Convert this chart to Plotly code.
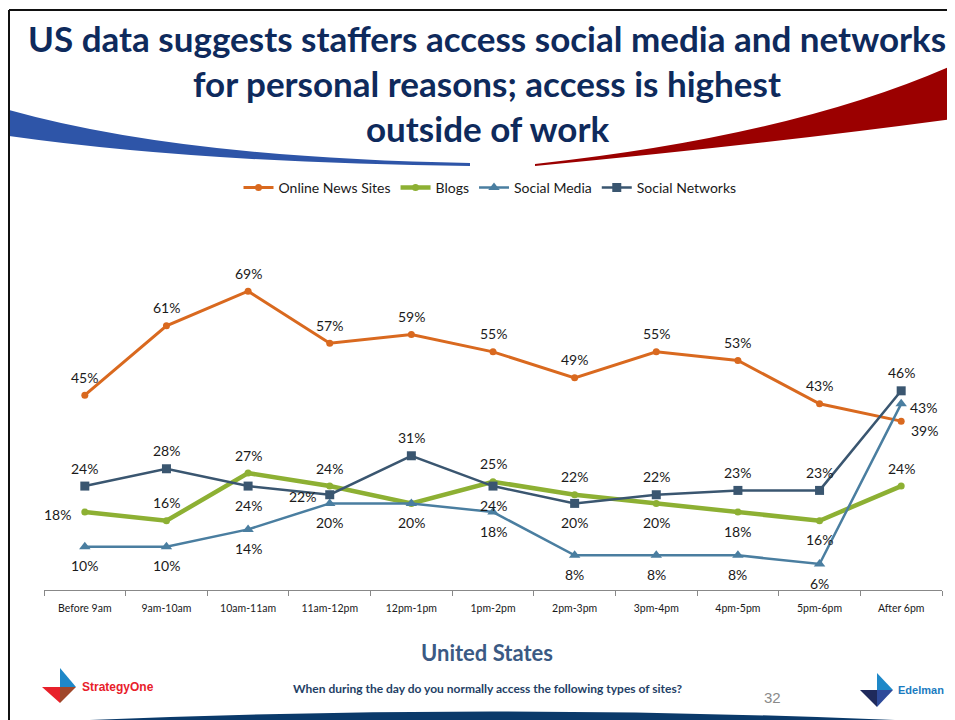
import plotly.graph_objects as go

# the page body adds an 8px margin, so the figure is drawn 8px smaller
# and every pixel position below is given in screen coordinates
OFF = 8
W, H = 955 - OFF, 720 - OFF

# data
categories = ["Before 9am", "9am-10am", "10am-11am", "11am-12pm", "12pm-1pm", "1pm-2pm",
              "2pm-3pm", "3pm-4pm", "4pm-5pm", "5pm-6pm", "After 6pm"]
online_news = [45, 61, 69, 57, 59, 55, 49, 55, 53, 43, 39]
blogs = [18, 16, 27, 24, 20, 25, 22, 20, 18, 16, 24]
social_media = [10, 10, 14, 20, 20, 18, 8, 8, 8, 6, 43]
social_networks = [24, 28, 24, 22, 31, 24, 20, 22, 23, 23, 46]

# where each data label sits relative to its point
pos_news = ["up"] * 10 + ["right_low"]
pos_blogs = ["left", "up", "up", "up", None, "up", "up", "down", "down", "down", "up"]
pos_media = ["down"] * 10 + ["right"]
pos_networks = ["up", "up", "down", "left", "up", "down", "down", "up", "up", "up", "up"]

OFFSETS = {
    "up": (0, 18),
    "down": (0, -19),
    "left": (-27, -2),
    "right": (22, -4),
    "right_low": (23, -9),
}

NAVY = "#0E2A5C"


def px(x, y):
    """screen pixel -> paper fraction"""
    return (x - OFF) / W, 1 - (y - OFF) / H


def path(cmds):
    out = []
    for c in cmds:
        if isinstance(c, str):
            out.append(c)
        else:
            fx, fy = px(*c)
            out.append(f"{fx:.5f},{fy:.5f}")
    return " ".join(out)


series = [
    ("Online News Sites", online_news, pos_news, "#D9691F", 3, "circle", 7),
    ("Blogs", blogs, pos_blogs, "#8DB033", 4.5, "circle", 7),
    ("Social Media", social_media, pos_media, "#4A7EA0", 2.5, "triangle-up", 10),
    ("Social Networks", social_networks, pos_networks, "#3A5670", 2.5, "square", 9),
]

fig = go.Figure()
annotations = []

for name, vals, poss, color, lw, sym, ms in series:
    fig.add_trace(go.Scatter(
        x=categories, y=vals, name=name, mode="lines+markers",
        line=dict(color=color, width=lw),
        marker=dict(symbol=sym, size=ms, color=color),
    ))
    for c, v, p in zip(categories, vals, poss):
        if p is None:
            continue
        dx, dy = OFFSETS[p]
        annotations.append(dict(
            x=c, y=v, xref="x", yref="y", text=f"{v}%", showarrow=False,
            xshift=dx, yshift=dy, font=dict(family="Lato", size=14, color="#1a1a1a"),
        ))


def note(x, y, text, size, color, family="Lato", anchor="center"):
    fx, fy = px(x, y)
    annotations.append(dict(x=fx, y=fy, xref="paper", yref="paper", text=text,
                            showarrow=False, xanchor=anchor, yanchor="middle",
                            font=dict(family=family, size=size, color=color)))


# title lines
note(487, 38, "<b>US data suggests staffers access social media and networks</b>", 35, NAVY)
note(487, 83, "<b>for personal reasons; access is highest</b>", 35, NAVY)
note(487, 128, "<b>outside of work</b>", 35, NAVY)

note(487, 652, "<b>United States</b>", 22, "#3B5A84")
note(487, 688, "<b>When during the day do you normally access the following types of sites?</b>",
     12, "#243F66")
note(772, 697, "32", 15, "#8a8a8a", family="Liberation Sans")
note(80, 687, "<b>StrategyOne</b>", 12, "#E8202A", family="Liberation Sans", anchor="left")
note(896, 690, "<b>Edelman</b>", 11, "#1A7BC0", family="Liberation Sans", anchor="left")

shapes = []


def add_path(cmds, color):
    shapes.append(dict(type="path", xref="paper", yref="paper", path=path(cmds),
                       fillcolor=color, line=dict(width=0), layer="below"))


# swooshes
add_path(["M", (9, 110), "Q", (180, 158), (470, 163), "L", (470, 166),
          "Q", (200, 163), (9, 136), "Z"], "#2E55A8")
add_path(["M", (535, 164), "Q", (800, 135), (960, 62), "L", (960, 118),
          "Q", (760, 145), (535, 166), "Z"], "#9B0000")
# bottom band
add_path(["M", (45, 722), "Q", (490, 701), (940, 722), "Z"], "#0B3A6A")
# StrategyOne mark
add_path(["M", (60, 668), "L", (76, 687), "L", (60, 687), "Z"], "#1E88C8")
add_path(["M", (42, 687), "L", (60, 687), "L", (60, 703), "Z"], "#E8202A")
add_path(["M", (60, 687), "L", (76, 687), "L", (60, 703), "Z"], "#A0472A")
# Edelman mark
add_path(["M", (877, 673), "L", (893, 690), "L", (877, 690), "Z"], "#1E88C8")
add_path(["M", (860, 690), "L", (877, 690), "L", (877, 707), "Z"], "#1F2A5C")
add_path(["M", (877, 690), "L", (893, 690), "L", (877, 707), "Z"], "#2E4A9A")

# slide frame
for x0, y0, x1, y1 in [(9, 10, 9, 722), (9, 10, 960, 10)]:
    a, b = px(x0, y0)
    c, d = px(x1, y1)
    shapes.append(dict(type="line", xref="paper", yref="paper", x0=a, y0=b, x1=c, y1=d,
                       line=dict(color="#111111", width=2)))

lx, ly = px(490, 188)
x0, _ = px(44, 0)
x1, _ = px(942, 0)
_, y0 = px(0, 590)
_, y1 = px(0, 243.6)
fig.update_layout(
    width=W, height=H,
    margin=dict(l=0, r=0, t=0, b=0),
    paper_bgcolor="white", plot_bgcolor="white",
    font=dict(family="Lato", color="#1a1a1a"),
    showlegend=True,
    legend=dict(orientation="h", x=lx, y=ly, xanchor="center", yanchor="middle",
                font=dict(family="Lato", size=14, color="#1a1a1a"),
                itemwidth=30, tracegroupgap=0, bgcolor="rgba(0,0,0,0)"),
    xaxis=dict(domain=[x0, x1], range=[-0.5, 10.5], showgrid=False,
               showline=True, linecolor="#888888", linewidth=1,
               ticks="outside", tickson="boundaries", ticklen=5, tickcolor="#888888",
               ticklabelstandoff=8,
               tickfont=dict(family="Lato", size=10.5, color="#1a1a1a"), zeroline=False),
    yaxis=dict(domain=[y0, y1], range=[0, 80], visible=False),
    annotations=annotations,
    shapes=shapes,
)

fig.write_html("out.html")
